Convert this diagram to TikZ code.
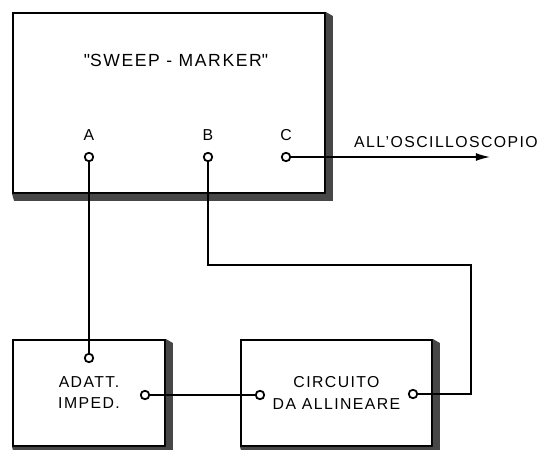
\documentclass[tikz,border=0pt]{standalone}
\usepackage{fontspec}
\setmainfont[LetterSpace=9]{Liberation Sans}
\usetikzlibrary{positioning,arrows.meta}

\begin{document}
\begin{tikzpicture}[
  x=0.02cm, y=-0.02cm,
  block/.style={draw, line width=1.1pt, fill=white, inner sep=0pt, align=center, font=\small},
  term/.style={draw, circle, line width=1pt, fill=white, minimum size=0.17cm, inner sep=0pt},
  wire/.style={line width=0.8pt},
  pinlabel/.style={font=\small},
  shade/.style={fill=black!72}
]
\useasboundingbox (0,0) rectangle (539,450);

% Blocks
\node[block, minimum width=6.24cm, minimum height=3.6cm] (sweep) at (169,103) {};
\node[block, minimum width=3.04cm, minimum height=2.12cm] (adatt) at (89,393) {ADATT.\\[1pt]IMPED.};
\node[block, minimum width=3.82cm, minimum height=2.12cm] (circ) at (336.5,393) {CIRCUITO\\[1pt]DA ALLINEARE};

% Shadows
\foreach \b in {sweep,adatt,circ}
  \fill[shade] (\b.north east) -- ++(7,4) |- ([shift={(2,7)}]\b.south west)
    -- (\b.south west) -- (\b.south east) -- cycle;

\node[font=\normalsize] (title) at (176,60) {\textquotedbl SWEEP - MARKER\textquotedbl};

% Terminals
\node[term] (a) at (89,157) {};
\node[term] (b) at (208,157) {};
\node[term] (c) at (286,157) {};
\node[term] (adin) at (89,358) {};
\node[term] (adout) at (145,395) {};
\node[term] (cin) at (260,395) {};
\node[term] (cout) at (413,394) {};

\node[pinlabel, above=3pt of a] {A};
\node[pinlabel, above=3pt of b] {B};
\node[pinlabel, above=3pt of c] {C};

% Connections
\coordinate (osc) at (490,157);
\coordinate (bend) at (471,265);
\draw[wire] (a) -- (adin);
\draw[wire] (adout) -- (cin);
\draw[wire, line width=0.6pt] (b) |- (bend) |- (cout);
\draw[wire, -{Latex[length=8pt,width=4.5pt]}] (c) -- (osc);
\node[font=\small] (osclabel) at (446,142) {ALL'OSCILLOSCOPIO};

\end{tikzpicture}
\end{document}
